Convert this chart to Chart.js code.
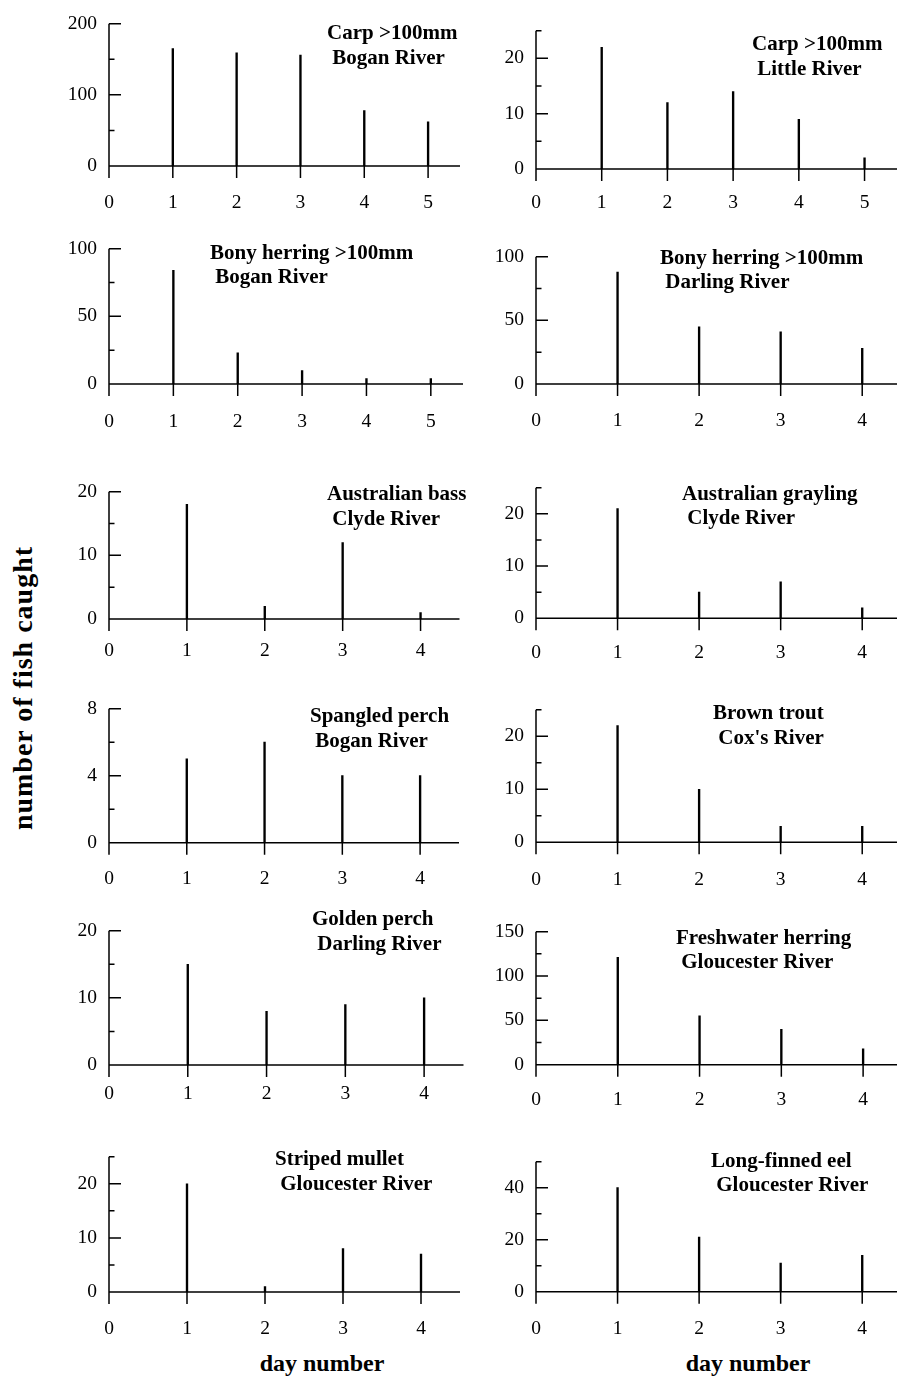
<!DOCTYPE html>
<html>
<head>
<meta charset="utf-8">
<title>Fish catch by day</title>
<script src="https://cdn.jsdelivr.net/npm/chart.js@4.4.1/dist/chart.umd.min.js"></script>
<style>
  html, body { margin: 0; padding: 0; background: #fff; }
  body { position: relative; width: 897px; height: 1380px; overflow: hidden; }
  canvas { position: absolute; }
  .axis-title {
    position: absolute;
    font-family: "Liberation Serif", "Times New Roman", serif;
    font-weight: bold;
    font-size: 24px;
    line-height: 24px;
    color: #000;
    white-space: nowrap;
  }
  #yTitle { font-size: 28px; line-height: 28px; letter-spacing: 1px; }
</style>
</head>
<body>
<div class="axis-title" id="yTitle">number of fish caught</div>
<div class="axis-title" id="xTitleLeft">day number</div>
<div class="axis-title" id="xTitleRight">day number</div>
<script>
// ---- catch data (fish caught per day of sampling) ----
const days5 = [1, 2, 3, 4, 5];
const days4 = [1, 2, 3, 4];

const carpBogan        = [165, 159, 156, 78, 62];
const carpLittle       = [22, 12, 14, 9, 2];
const bonyBogan        = [84, 23, 10, 4, 4];
const bonyDarling      = [88, 45, 41, 28];
const bassClyde        = [18, 2, 12, 1];
const graylingClyde    = [21, 5, 7, 2];
const spangledBogan    = [5, 6, 4, 4];
const troutCox         = [22, 10, 3, 3];
const goldenDarling    = [15, 8, 9, 10];
const herringGlouc     = [121, 55, 40, 18];
const mulletGlouc      = [20, 1, 8, 7];
const eelGlouc         = [40, 21, 11, 14];

const panelTitles = [
  ['Carp >100mm', ' Bogan River'],
  ['Carp >100mm', ' Little River'],
  ['Bony herring >100mm', ' Bogan River'],
  ['Bony herring >100mm', ' Darling River'],
  ['Australian bass', ' Clyde River'],
  ['Australian grayling', ' Clyde River'],
  ['Spangled perch', ' Bogan River'],
  ['Brown trout', ' Cox\'s River'],
  ['Golden perch', ' Darling River'],
  ['Freshwater herring', ' Gloucester River'],
  ['Striped mullet', ' Gloucester River'],
  ['Long-finned eel', ' Gloucester River']
];
const panelDays   = [days5, days5, days5, days4, days4, days4, days4, days4, days4, days4, days4, days4];
const panelValues = [carpBogan, carpLittle, bonyBogan, bonyDarling, bassClyde, graylingClyde,
                     spangledBogan, troutCox, goldenDarling, herringGlouc, mulletGlouc, eelGlouc];

// axis ranges and tick steps
const xMaxima     = [5.5, 5.5, 5.5, 4.5, 4.5, 4.5, 4.5, 4.5, 4.5, 4.5, 4.5, 4.5];
const yMaxima     = [200, 25, 100, 100, 20, 25, 8, 25, 20, 150, 25, 50];
const yMinorSteps = [50, 5, 25, 25, 5, 5, 2, 5, 5, 25, 5, 10];
const yMajorSteps = [100, 10, 50, 50, 10, 10, 4, 10, 10, 50, 10, 20];

// ---- page layout of each panel (pixels) ----
// axisX: y-axis line, rightX: end of x-axis, topY: top of y-axis, zeroY: x-axis line,
// gap: distance from x-axis to centre of day labels, tx/ty: panel label anchor (left, first baseline)
const frames = [
  { axisX: 109, rightX: 460,   topY: 16,     zeroY: 166,    gap: 37,   tx: 327, ty: 39 },
  { axisX: 536, rightX: 897.4, topY: 23.3,   zeroY: 169,    gap: 34,   tx: 752, ty: 50 },
  { axisX: 109, rightX: 463,   topY: 241,    zeroY: 384,    gap: 37.5, tx: 210, ty: 258.5 },
  { axisX: 536, rightX: 903,   topY: 249.3,  zeroY: 384,    gap: 37,   tx: 660, ty: 263.5 },
  { axisX: 109, rightX: 459.5, topY: 484,    zeroY: 619,    gap: 32,   tx: 327, ty: 500 },
  { axisX: 536, rightX: 903,   topY: 479.6,  zeroY: 618.3,  gap: 35,   tx: 682, ty: 499.5 },
  { axisX: 109, rightX: 459,   topY: 700.7,  zeroY: 842.7,  gap: 36,   tx: 310, ty: 722 },
  { axisX: 536, rightX: 903,   topY: 702,    zeroY: 842.3,  gap: 37.5, tx: 713, ty: 719 },
  { axisX: 109, rightX: 463.5, topY: 923,    zeroY: 1065,   gap: 29,   tx: 312, ty: 925 },
  { axisX: 536, rightX: 904,   topY: 924,    zeroY: 1064.7, gap: 35,   tx: 676, ty: 943.5 },
  { axisX: 109, rightX: 460,   topY: 1148.7, zeroY: 1292,   gap: 37,   tx: 275, ty: 1165 },
  { axisX: 536, rightX: 903,   topY: 1153.7, zeroY: 1291.7, gap: 37.5, tx: 711, ty: 1166.5 }
];

const TICK_FONT = 19.5;
const TITLE_FONT = 21;
const SERIF = '"Liberation Serif", "Times New Roman", serif';
const INK = '#000';

Chart.defaults.font.family = SERIF;
Chart.defaults.font.size = TICK_FONT;
Chart.defaults.color = INK;

// axis lines, inward y ticks, downward x ticks and the two-line panel label
function framePlugin(titleLines, frame, canvasLeft, canvasTop, majorStep) {
  return {
    id: 'panelFrame',
    afterDraw(chart) {
      const ctx = chart.ctx;
      const xs = chart.scales.x;
      const ys = chart.scales.y;
      const x0 = xs.getPixelForValue(0);
      const y0 = ys.getPixelForValue(0);
      const yTop = ys.getPixelForValue(ys.max);
      ctx.save();
      ctx.strokeStyle = INK;
      ctx.lineWidth = 1.5;
      ctx.beginPath();
      // y-axis, continuing down as the day-0 tick
      ctx.moveTo(x0, yTop);
      ctx.lineTo(x0, y0 + 12);
      // x-axis
      ctx.moveTo(x0, y0);
      ctx.lineTo(chart.chartArea.right, y0);
      // y ticks: long at labelled values, short in between
      ys.ticks.forEach(t => {
        const py = ys.getPixelForValue(t.value);
        const len = (Math.abs(t.value % majorStep) < 1e-9) ? 12 : 5.5;
        ctx.moveTo(x0, py);
        ctx.lineTo(x0 + len, py);
      });
      // x ticks
      xs.ticks.forEach(t => {
        const px = xs.getPixelForValue(t.value);
        ctx.moveTo(px, y0);
        ctx.lineTo(px, y0 + 12);
      });
      ctx.stroke();

      ctx.fillStyle = INK;
      ctx.font = 'bold ' + TITLE_FONT + 'px ' + SERIF;
      ctx.textAlign = 'left';
      ctx.textBaseline = 'alphabetic';
      titleLines.forEach((line, i) => {
        ctx.fillText(line, frame.tx - canvasLeft, frame.ty - canvasTop + i * 24.5);
      });
      ctx.restore();
    }
  };
}

frames.forEach((f, i) => {
  const left = f.axisX < 300 ? 50 : 478;
  const width = f.axisX < 300 ? 430 : 432;
  const top = Math.max(0, Math.round(f.topY - 16));
  const height = Math.round(f.zeroY + 48 - top);

  const canvas = document.createElement('canvas');
  canvas.width = width;
  canvas.height = height;
  canvas.style.left = left + 'px';
  canvas.style.top = top + 'px';
  canvas.style.width = width + 'px';
  canvas.style.height = height + 'px';
  document.body.appendChild(canvas);

  const days = panelDays[i];
  const values = panelValues[i];
  const major = yMajorSteps[i];
  const bottomSpace = top + height - f.zeroY;

  new Chart(canvas, {
    type: 'bar',
    data: {
      datasets: [{
        data: days.map((d, k) => ({ x: d, y: values[k] })),
        backgroundColor: INK,
        borderWidth: 0,
        barThickness: 1.7
      }]
    },
    options: {
      responsive: false,
      animation: false,
      events: [],
      layout: {
        padding: { top: f.topY - top, right: left + width - f.rightX, left: 0, bottom: 0 }
      },
      plugins: { legend: { display: false }, tooltip: { enabled: false }, title: { display: false } },
      scales: {
        x: {
          type: 'linear',
          min: 0,
          max: xMaxima[i],
          offset: false,
          grid: { display: false, drawTicks: false, offset: false },
          border: { display: false },
          ticks: {
            stepSize: 1,
            includeBounds: false,
            autoSkip: false,
            maxRotation: 0,
            padding: f.gap - TICK_FONT * 0.6,
            callback: v => String(v)
          },
          afterFit: s => { s.height = bottomSpace; }
        },
        y: {
          type: 'linear',
          min: 0,
          max: yMaxima[i],
          grid: { display: false, drawTicks: false },
          border: { display: false },
          ticks: {
            stepSize: yMinorSteps[i],
            includeBounds: false,
            autoSkip: false,
            padding: 12,
            callback: v => (Math.abs(v % major) < 1e-9 ? String(v) : '')
          },
          afterFit: s => { s.width = f.axisX - left; }
        }
      }
    },
    plugins: [framePlugin(panelTitles[i], f, left, top, major)]
  });
});

// axis titles
const yTitle = document.getElementById('yTitle');
yTitle.style.left = '23px';
yTitle.style.top = '688px';
yTitle.style.transform = 'translate(-50%, -50%) rotate(-90deg)';

const xl = document.getElementById('xTitleLeft');
xl.style.left = '322px';
xl.style.top = '1351px';
xl.style.transform = 'translateX(-50%)';

const xr = document.getElementById('xTitleRight');
xr.style.left = '748px';
xr.style.top = '1351px';
xr.style.transform = 'translateX(-50%)';
</script>
</body>
</html>
